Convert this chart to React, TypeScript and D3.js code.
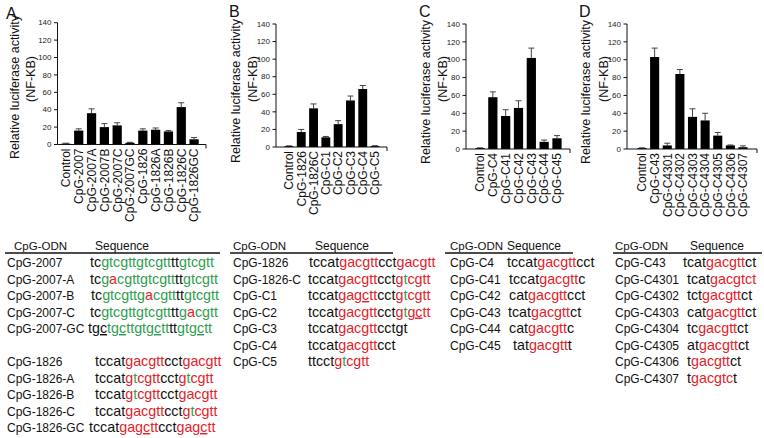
import React from "react";
import * as d3 from "d3";

// ---------- DATA ----------
const catsA = ["Control", "CpG-2007", "CpG-2007A", "CpG-2007B", "CpG-2007C", "CpG-2007GC", "CpG-1826", "CpG-1826A", "CpG-1826B", "CpG-1826C", "CpG-1826GC"];
const valsA = [1, 16, 36, 20, 22, 2, 16, 17, 15, 43, 6];
const errsA = [0.5, 2, 5, 4, 3, 0.5, 2, 2, 1, 5, 2];

const catsB = ["Control", "CpG-1826", "CpG-1826C", "CpG-C1", "CpG-C2", "CpG-C3", "CpG-C4", "CpG-C5"];
const valsB = [1, 17, 44, 11, 26, 53, 66, 1];
const errsB = [0.3, 3, 5, 1, 4, 5, 4, 0.5];

const catsC = ["Control", "CpG-C4", "CpG-C41", "CpG-C42", "CpG-C43", "CpG-C44", "CpG-C45"];
const valsC = [1, 58, 37, 46, 102, 8, 12];
const errsC = [0.3, 6, 7, 8, 11, 2, 3];

const catsD = ["Control", "CpG-C43", "CpG-C4301", "CpG-C4302", "CpG-C4303", "CpG-C4304", "CpG-C4305", "CpG-C4306", "CpG-C4307"];
const valsD = [1, 103, 4, 84, 36, 32, 15, 4, 2];
const errsD = [0.3, 10, 2.5, 5, 9, 8, 3.5, 0.5, 1.5];

const yTicks = [0, 20, 40, 60, 80, 100, 120, 140];

// sequence tables: segments [text, colour code] ; k=black g=green r=red, trailing u = underlined
const namesA = ["CpG-2007", "CpG-2007-A", "CpG-2007-B", "CpG-2007-C", "CpG-2007-GC", "", "CpG-1826", "CpG-1826-A", "CpG-1826-B", "CpG-1826-C", "CpG-1826-GC"];
const seqsA: [string, string][][] = [
  [["tc", "k"], ["gtcgttgtcgtt", "g"], ["tt", "k"], ["gtcgtt", "g"]],
  [["tc", "k"], ["g", "g"], ["a", "r"], ["cgttgtcgtt", "g"], ["tt", "k"], ["gtcgtt", "g"]],
  [["tc", "k"], ["gtcgttg", "g"], ["a", "r"], ["cgtt", "g"], ["tt", "k"], ["gtcgtt", "g"]],
  [["tc", "k"], ["gtcgttgtcgtt", "g"], ["tt", "k"], ["g", "g"], ["a", "r"], ["cgtt", "g"]],
  [["t", "k"], ["gc", "ku"], ["t", "g"], ["gc", "gu"], ["ttgt", "g"], ["gc", "gu"], ["tt", "g"], ["tt", "k"], ["gt", "g"], ["gc", "gu"], ["tt", "g"]],
  [],
  [["tccat", "k"], ["gacgtt", "r"], ["cct", "k"], ["gacgtt", "r"]],
  [["tccat", "k"], ["g", "r"], ["t", "g"], ["cgtt", "r"], ["cct", "k"], ["g", "r"], ["t", "g"], ["cgtt", "r"]],
  [["tccat", "k"], ["g", "r"], ["t", "g"], ["cgtt", "r"], ["cct", "k"], ["gacgtt", "r"]],
  [["tccat", "k"], ["gacgtt", "r"], ["cct", "k"], ["g", "r"], ["t", "g"], ["cgtt", "r"]],
  [["tccat", "k"], ["ga", "r"], ["gc", "ru"], ["tt", "r"], ["cct", "k"], ["ga", "r"], ["gc", "ru"], ["tt", "r"]],
];

const namesB = ["CpG-1826", "CpG-1826-C", "CpG-C1", "CpG-C2", "CpG-C3", "CpG-C4", "CpG-C5"];
const seqsB: [string, string][][] = [
  [["tccat", "k"], ["gacgtt", "r"], ["cct", "k"], ["gacgtt", "r"]],
  [["tccat", "k"], ["gacgtt", "r"], ["cct", "k"], ["g", "r"], ["t", "g"], ["cgtt", "r"]],
  [["tccat", "k"], ["ga", "r"], ["gc", "ru"], ["tt", "r"], ["cct", "k"], ["g", "r"], ["t", "g"], ["cgtt", "r"]],
  [["tccat", "k"], ["gacgtt", "r"], ["cct", "k"], ["g", "r"], ["t", "g"], ["gc", "ru"], ["tt", "r"]],
  [["tccat", "k"], ["gacgtt", "r"], ["cctgt", "k"]],
  [["tccat", "k"], ["gacgtt", "r"], ["cct", "k"]],
  [["ttcct", "k"], ["g", "r"], ["t", "g"], ["cgtt", "r"]],
];

const namesC = ["CpG-C4", "CpG-C41", "CpG-C42", "CpG-C43", "CpG-C44", "CpG-C45"];
const seqsC: [string, string][][] = [
  [["tccat", "k"], ["gacgtt", "r"], ["cct", "k"]],
  [["tccat", "k"], ["gacgtt", "r"], ["c", "k"]],
  [["cat", "k"], ["gacgtt", "r"], ["cct", "k"]],
  [["tcat", "k"], ["gacgtt", "r"], ["ct", "k"]],
  [["cat", "k"], ["gacgtt", "r"], ["c", "k"]],
  [["tat", "k"], ["gacgtt", "r"], ["t", "k"]],
];

const namesD = ["CpG-C43", "CpG-C4301", "CpG-C4302", "CpG-C4303", "CpG-C4304", "CpG-C4305", "CpG-C4306", "CpG-C4307"];
const seqsD: [string, string][][] = [
  [["tcat", "k"], ["gacgtt", "r"], ["ct", "k"]],
  [["tcat", "k"], ["gacgtct", "r"]],
  [["tct", "k"], ["gacgtt", "r"], ["ct", "k"]],
  [["cat", "k"], ["gacgtt", "r"], ["ct", "k"]],
  [["tc", "k"], ["gacgtt", "r"], ["ct", "k"]],
  [["at", "k"], ["gacgtt", "r"], ["ct", "k"]],
  [["t", "k"], ["gacgtt", "r"], ["ct", "k"]],
  [["t", "k"], ["gacgtc", "r"], ["t", "k"]],
];

// ---------- LAYOUT / STYLE ----------
const FONT = "Liberation Sans, Arial, Helvetica, sans-serif";
const COLORS: Record<string, string> = { k: "#111", g: "#2f9e4f", r: "#e3222a" };

const panels = [
  { letter: "A", cats: catsA, vals: valsA, errs: errsA, lx: 6, ly: 19, axisX: 57.5, axisEnd: 206, y0: 144.5, yTop: 22.7, bl: 59.5, br: 200.5, t1: 19, t2: 35, t1y: 87 },
  { letter: "B", cats: catsB, vals: valsB, errs: errsB, lx: 229, ly: 17, axisX: 276, axisEnd: 387, y0: 147, yTop: 24, bl: 282.8, br: 381.2, t1: 240, t2: 257, t1y: 91 },
  { letter: "C", cats: catsC, vals: valsC, errs: errsC, lx: 419, ly: 17, axisX: 466, axisEnd: 570, y0: 149, yTop: 24, bl: 473.6, br: 563.4, t1: 430, t2: 447, t1y: 92 },
  { letter: "D", cats: catsD, vals: valsD, errs: errsD, lx: 579, ly: 17, axisX: 627, axisEnd: 757, y0: 149, yTop: 24, bl: 635.7, br: 749.3, t1: 590, t2: 608, t1y: 92 },
];

const tables = [
  { names: namesA, seqs: seqsA, nameX: 7, hdrX: 14, seqHdrX: 95, seqX: [90, 90, 91, 90, 88, 0, 95, 95, 95, 95, 89], lineX0: 5, lineX1: 220 },
  { names: namesB, seqs: seqsB, nameX: 233, hdrX: 233, seqHdrX: 315, seqX: [309, 308, 308, 308, 308, 308, 308], lineX0: 230, lineX1: 393 },
  { names: namesC, seqs: seqsC, nameX: 450, hdrX: 450, seqHdrX: 507, seqX: [507, 509, 509, 508, 509, 513], lineX0: 445, lineX1: 573 },
  { names: namesD, seqs: seqsD, nameX: 615, hdrX: 615, seqHdrX: 690, seqX: [683, 687, 687, 687, 687, 687, 687, 687], lineX0: 613, lineX1: 762 },
];

const HDR_Y = 249.5;
const LINE_Y = 253;
const ROW0 = 267;
const ROW_STEP = 16.5;

function Panel({ p }: { p: any }) {
  const x = d3.scaleBand<string>().domain(p.cats).range([p.bl, p.br]).paddingInner(0.28).paddingOuter(0.14);
  const y = d3.scaleLinear().domain([0, 140]).range([p.y0, p.yTop]);
  const bw = x.bandwidth();
  const capW = 6;
  return (
    <g>
      <text x={p.lx} y={p.ly} fontSize={16} fontFamily={FONT} fill="#111">{p.letter}</text>
      <text transform={`translate(${p.t1},${p.t1y}) rotate(-90)`} textAnchor="middle" fontSize={12.5} fontFamily={FONT} fill="#111">Relative luciferase activity</text>
      <text transform={`translate(${p.t2},79) rotate(-90)`} textAnchor="middle" fontSize={12.5} fontFamily={FONT} fill="#111">(NF-KB)</text>
      <line x1={p.axisX} x2={p.axisX} y1={y(0)} y2={y(140)} stroke="#111" strokeWidth={1} />
      {yTicks.map((t) => (
        <g key={t}>
          <line x1={p.axisX - 3.5} x2={p.axisX} y1={y(t)} y2={y(t)} stroke="#111" strokeWidth={1} />
          <text x={p.axisX - 6} y={y(t)} dy="0.34em" textAnchor="end" fontSize={8} fontFamily={FONT} fill="#222">{t}</text>
        </g>
      ))}
      {p.cats.map((c: string, i: number) => {
        const v = p.vals[i];
        const e = p.errs[i];
        const cx = (x(c) as number) + bw / 2;
        return (
          <g key={c}>
            <line x1={cx} x2={cx} y1={y(v)} y2={y(v + e)} stroke="#444" strokeWidth={1} />
            <line x1={cx - capW / 2} x2={cx + capW / 2} y1={y(v + e)} y2={y(v + e)} stroke="#444" strokeWidth={1} />
            <rect x={x(c)} y={y(v)} width={bw} height={y(0) - y(v)} fill="#000" />
          </g>
        );
      })}
      <line x1={p.axisX} x2={p.axisEnd} y1={y(0)} y2={y(0)} stroke="#111" strokeWidth={1} />
      <line x1={p.axisEnd} x2={p.axisEnd} y1={y(0)} y2={y(0) + 4} stroke="#111" strokeWidth={1} />
      {p.cats.map((c: string) => {
        const cx = (x(c) as number) + bw / 2;
        return (
          <text key={c} transform={`translate(${cx},${y(0) + 4}) rotate(-90)`} dy="0.36em" textAnchor="end" fontSize={12} fontFamily={FONT} fill="#111">{c}</text>
        );
      })}
    </g>
  );
}

function Table({ t }: { t: any }) {
  return (
    <g fontFamily={FONT}>
      <text x={t.hdrX} y={HDR_Y} fontSize={11.5} fill="#111">CpG-ODN</text>
      <text x={t.seqHdrX} y={HDR_Y} fontSize={12} fill="#111">Sequence</text>
      <line x1={t.lineX0} x2={t.lineX1} y1={LINE_Y} y2={LINE_Y} stroke="#111" strokeWidth={1.5} />
      {t.names.map((n: string, i: number) => {
        if (!n) return null;
        const yy = ROW0 + i * ROW_STEP;
        return (
          <g key={n}>
            <text x={t.nameX} y={yy} fontSize={12} fill="#111">{n}</text>
            <text x={t.seqX[i]} y={yy} fontSize={14.3}>
              {t.seqs[i].map((s: [string, string], j: number) => (
                <tspan key={j} fill={COLORS[s[1][0]]} textDecoration={s[1].endsWith("u") ? "underline" : undefined}>{s[0]}</tspan>
              ))}
            </text>
          </g>
        );
      })}
    </g>
  );
}

export default function App() {
  return (
    <svg width={764} height={438} style={{ position: "absolute", left: 0, top: 0, background: "#fff" }}>
      <rect width={764} height={438} fill="#fff" />
      {panels.map((p) => <Panel key={p.letter} p={p} />)}
      {tables.map((t, i) => <Table key={i} t={t} />)}
    </svg>
  );
}
